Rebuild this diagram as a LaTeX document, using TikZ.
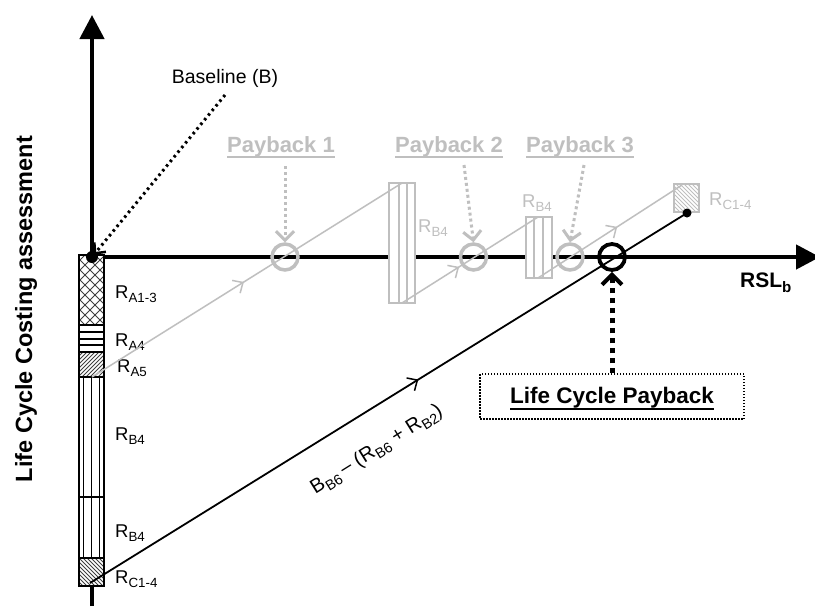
\documentclass[tikz,border=0pt]{standalone}
\usepackage{fontspec}
\usepackage{graphicx}
\setmainfont{Liberation Sans}
\usetikzlibrary{arrows.meta,decorations.markings}
\definecolor{lg}{RGB}{191,191,191}
\newcommand\fsz[1]{\fontsize{#1}{#1}\selectfont}
\newcommand\sbs[1]{\raisebox{-0.24em}{\scalebox{0.72}{#1}}}
\newcommand\ulinetext[3]{\setbox0\hbox{#3}\rlap{\rule[-#1]{\wd0}{#2}}\box0}
\tikzset{
  axisline/.style={line width=4.5pt,-{Triangle[length=24pt,width=24pt]}},
  barline/.style={line width=1.5pt},
  hatch/.style={line width=0.8pt,draw=black!75},
  glinestyle/.style={draw=lg,line width=1.5pt},
  blinestyle/.style={draw=black,line width=1.8pt},
  midarrow/.style={postaction={decorate,decoration={markings,
      mark=at position #1 with {\arrow{Straight Barb[length=8pt,width=15pt,line width=1.5pt]}}}}},
  gcirc/.style={circle,draw=lg,line width=3.5pt,minimum size=26pt,inner sep=0pt},
  bcirc/.style={circle,draw=black,line width=3.8pt,minimum size=26pt,inner sep=0pt},
  gbox/.style={draw=lg,fill=white,line width=1.5pt},
  gdotarrow/.style={draw=lg,line width=3pt,dash pattern=on 3pt off 3pt,
      -{Straight Barb[length=9pt,width=18pt,line width=3pt]}},
  bdotarrow/.style={draw=black,line width=5pt,dash pattern=on 5pt off 5pt,
      -{Straight Barb[length=10pt,width=20pt,line width=4pt]}},
  basearrow/.style={draw=black,line width=3pt,dash pattern=on 2.5pt off 3.5pt,
      -{Straight Barb[length=8pt,width=15pt,line width=2.5pt]}},
  rlab/.style={font=\fsz{18.5},inner sep=0pt,anchor=base west},
  glab/.style={rlab,text=lg},
  paylab/.style={font=\fsz{22}\bfseries,text=lg,inner sep=0pt,anchor=base},
}
\begin{document}
\begin{tikzpicture}[x=1pt,y=-1pt]
\useasboundingbox[fill=white] (0,0) rectangle (815,606);

% axes
\coordinate (O) at (92,257);
\coordinate (ytop) at (92,15);
\coordinate (ybot) at (92,606);
\coordinate (xend) at (820,257);
\draw[axisline] (ybot) -- (ytop);
\draw[axisline] (O) -- (xend);

% bar
\fill[white] (79,255) rectangle (104,586);
\begin{scope}
  \clip (79,255) rectangle (104,325);
  \foreach \a in {5,15,...,115} {
    \draw[hatch] (\a,255) -- ++(70,70);
    \draw[hatch] (\a,325) -- ++(70,-70);
  }
\end{scope}
\foreach \yy in {332,339,345} \draw[line width=1.2pt] (79,\yy) -- (104,\yy);
\begin{scope}
  \clip (79,352) rectangle (104,377);
  \foreach \a in {50,54,...,110} \draw[hatch] (\a,377) -- ++(25,-25);
\end{scope}
\foreach \xx in {83.5,91.5,99.5} \draw[line width=1pt] (\xx,377) -- (\xx,558);
\begin{scope}
  \clip (79,558) rectangle (104,586);
  \foreach \a in {47,51,...,110} \draw[hatch] (\a,558) -- ++(28,28);
\end{scope}
\draw[barline] (79,255) rectangle (104,586);
\foreach \yy in {325,352,377,497,558} \draw[barline] (79,\yy) -- (104,\yy);

% bar labels
\node[rlab] (ra13) at (115,298) {R\sbs{A1-3}};
\node[rlab] (ra4) at (115,346) {R\sbs{A4}};
\node[rlab] (ra5) at (117,372) {R\sbs{A5}};
\node[rlab] (rb4a) at (115,440) {R\sbs{B4}};
\node[rlab] (rb4b) at (115,537) {R\sbs{B4}};
\node[rlab] (rc14) at (115,583) {R\sbs{C1-4}};

% grey boxes
\draw[gbox] (389,183) rectangle (415,303);
\foreach \xx in {399,407} \draw[glinestyle] (\xx,183) -- (\xx,303);
\draw[gbox] (526,217) rectangle (552,278);
\foreach \xx in {534,543} \draw[glinestyle] (\xx,217) -- (\xx,278);
\fill[white] (674,184) rectangle (699,212);
\begin{scope}
  \clip (674,184) rectangle (699,212);
  \foreach \a in {640,644,...,705} \draw[draw=lg,line width=0.8pt] (\a,184) -- ++(28,28);
\end{scope}
\draw[glinestyle] (674,184) rectangle (699,212);

\node[glab] (gb1) at (418,232) {R\sbs{B4}};
\node[glab] (gb2) at (522,207) {R\sbs{B4}};
\node[glab] (gc) at (709,205) {R\sbs{C1-4}};

% grey lines
\coordinate (g1s) at (92,377);
\coordinate (g1e) at (402,183);
\coordinate (g2s) at (402,303);
\coordinate (g2e) at (538,217);
\coordinate (g3s) at (538,278);
\coordinate (g3e) at (682,185);
\draw[glinestyle,midarrow=0.49] (g1s) -- (g1e);
\draw[glinestyle,midarrow=0.42] (g2s) -- (g2e);
\draw[glinestyle,midarrow=0.55] (g3s) -- (g3e);

% circles
\node[gcirc] (c1) at (285,257) {};
\node[gcirc] (c2) at (473.5,257) {};
\node[gcirc] (c3) at (570,257) {};
\node[bcirc] (bc) at (612,257) {};

% black line
\coordinate (bs) at (90,583);
\coordinate (be) at (687,213);
\draw[blinestyle,midarrow=0.55] (bs) -- (be);
\fill (be) circle (4.5);
\node[font=\fsz{20},inner sep=0pt,rotate=32] (bl) at (377,450)
  {B\sbs{B6}\,– (R\sbs{B6} + R\sbs{B2})};

% origin dot
\fill (O) circle (6);

% payback labels and arrows
\node[paylab] (p1) at (281,152) {\ulinetext{6pt}{2pt}{Payback 1}};
\node[paylab] (p2) at (449,152) {\ulinetext{6pt}{2pt}{Payback 2}};
\node[paylab] (p3) at (580,152) {\ulinetext{6pt}{2pt}{Payback 3}};
\coordinate (p1a) at (285,166);
\coordinate (p2a) at (464,165);
\coordinate (p3a) at (584,165);
\draw[gdotarrow] (p1a) -- (c1.north);
\draw[gdotarrow] (p2a) -- (c2.north);
\draw[gdotarrow] (p3a) -- (c3.north);

% life cycle payback
\node[draw,line width=1.5pt,dash pattern=on 1.5pt off 1.5pt,minimum width=264pt,
      minimum height=45pt,inner sep=0pt,font=\fsz{22.5}\bfseries,
      text height=16pt,text depth=3pt] (lcp) at (612,396.5)
      {\ulinetext{7pt}{2.5pt}{Life Cycle Payback}};
\draw[bdotarrow] (lcp.north) -- (bc.south);

% baseline
\node[font=\fsz{19.5},inner sep=0pt,anchor=base] (base) at (225,83) {Baseline (B)};
\coordinate (ba) at (225,95);
\draw[basearrow,shorten >=3pt] (ba) -- (O);

% axis labels
\node[font=\fsz{21}\bfseries,inner sep=0pt,anchor=base west] (rsl) at (740,287) {RSL\sbs{b}};
\node[font=\fsz{23.5}\bfseries,inner sep=0pt,anchor=base,rotate=90] (ylab) at (32,309)
  {Life Cycle Costing assessment};
\end{tikzpicture}
\end{document}
